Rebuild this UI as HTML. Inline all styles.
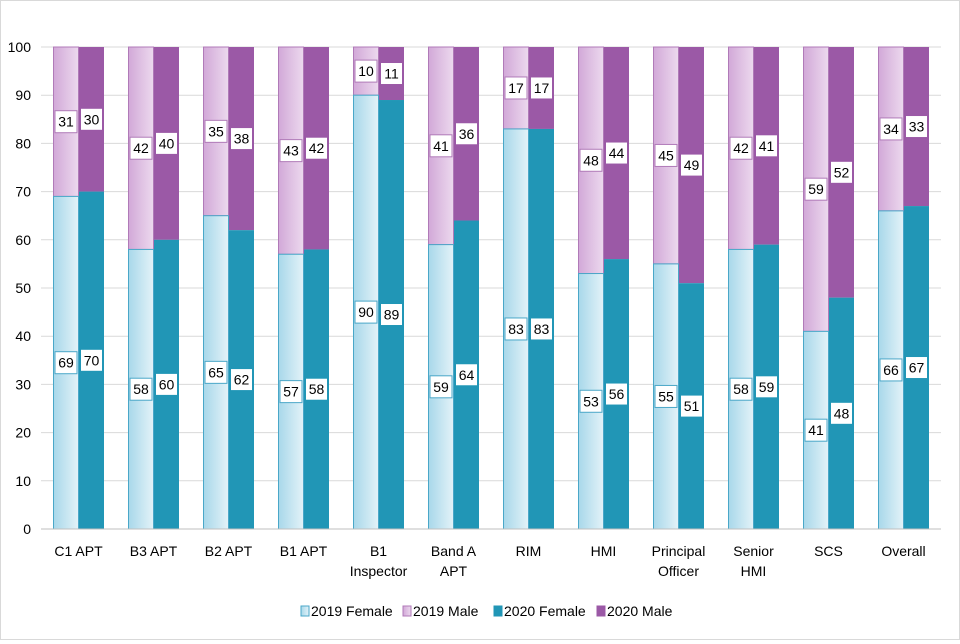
<!DOCTYPE html>
<html><head><meta charset="utf-8"><style>
body{margin:0;background:#fff;}
#wrap{width:958px;height:638px;border:1px solid #d9d9d9;position:relative;}
svg{font-family:"Liberation Sans",sans-serif;}
</style></head><body>
<div id="wrap">
<svg id="chart" width="958" height="638">
<defs>
<linearGradient id="gF" x1="0" x2="1"><stop offset="0" stop-color="#a8d8ea"/><stop offset="1" stop-color="#e3f2f8"/></linearGradient>
<linearGradient id="gM" x1="0" x2="1"><stop offset="0" stop-color="#d2a8d8"/><stop offset="1" stop-color="#ecd9ee"/></linearGradient>
</defs>
<g id="grid"></g><g id="bars"></g><g id="labels"></g><g id="axis"></g><g id="legend"></g>
</svg></div>
<script>
const categories=[["C1 APT"],["B3 APT"],["B2 APT"],["B1 APT"],["B1","Inspector"],["Band A","APT"],["RIM"],["HMI"],["Principal","Officer"],["Senior","HMI"],["SCS"],["Overall"]];
const female2019=[69,58,65,57,90,59,83,53,55,58,41,66];
const male2019=[31,42,35,43,10,41,17,48,45,42,59,34];
const female2020=[70,60,62,58,89,64,83,56,51,59,48,67];
const male2020=[30,40,38,42,11,36,17,44,49,41,52,33];
const yTicks=[0,10,20,30,40,50,60,70,80,90,100];
const NS="http://www.w3.org/2000/svg";
const L=40,R=940,T=46,B=528;
const y=v=>B-(v/100)*(B-T);
const gw=(R-L)/categories.length;
function mk(t,a,p){const e=document.createElementNS(NS,t);for(const k in a)e.setAttribute(k,a[k]);p.appendChild(e);return e;}
const grid=document.getElementById('grid'),bars=document.getElementById('bars'),labels=document.getElementById('labels'),axis=document.getElementById('axis'),legend=document.getElementById('legend');
yTicks.forEach(v=>{
 const l=mk('line',{x1:L,x2:R,y1:y(v),y2:y(v),stroke:'#d9d9d9','stroke-width':1},grid);
 
 
 const t=mk('text',{x:L-10,y:y(v)+5,'text-anchor':'end','font-size':14,fill:'#000'},axis);
 t.textContent=v;
 
 
});
const ax=mk('line',{x1:L,x2:R,y1:B,y2:B,stroke:'#bfbfbf'},axis);


function label(cx,cy,val,col){
 const r=mk('rect',{x:cx-11,y:cy-11,width:22,height:22,fill:'#fff',stroke:col,'stroke-width':1},labels);
 
 
 const t=mk('text',{x:cx,y:cy+5,'text-anchor':'middle','font-size':14},labels);
 t.textContent=val;
 
 
}
categories.forEach((c,i)=>{
 const g0=L+i*gw;
 const series=[[female2019[i],male2019[i],'url(#gF)','url(#gM)','#4aa7c8','#b07ab8',g0+12.5],[female2020[i],male2020[i],'#2196b6','#9b59a6','#2196b6','#9b59a6',g0+38]];
 series.forEach((s,j)=>{
  const [f,m,cf,cm,sf,sm,x]=s;const w=25;
  const top=Math.min(100,f+m);
  const rm=mk('rect',{x:x,y:y(top),width:w,height:y(f)-y(top),fill:cm,stroke:j==0?sm:'none'},bars);
  
  
  const rf=mk('rect',{x:x,y:y(f),width:w,height:y(0)-y(f),fill:cf,stroke:j==0?sf:'none'},bars);
  
  
  label(x+w/2,y(f/2),f,sf);
  label(x+w/2,y((f+top)/2),m,sm);
 });
 c.forEach((line,k)=>{
  const t=mk('text',{x:g0+gw/2,y:B+27+k*20,'text-anchor':'middle','font-size':14},axis);
  t.textContent=line;
  
  
 });
});
const leg=[['2019 Female','url(#gF)','#4aa7c8',300],['2019 Male','url(#gM)','#b07ab8',402],['2020 Female','#2196b6','#2196b6',493],['2020 Male','#9b59a6','#9b59a6',596]];
leg.forEach(d=>{
 const r=mk('rect',{x:d[3],y:605,width:8,height:10,fill:d[1],stroke:d[2]},legend);
 
 
 const t=mk('text',{x:d[3]+10,y:615,'font-size':14},legend);
 t.textContent=d[0];
 
 
});
</script>
</body></html>
